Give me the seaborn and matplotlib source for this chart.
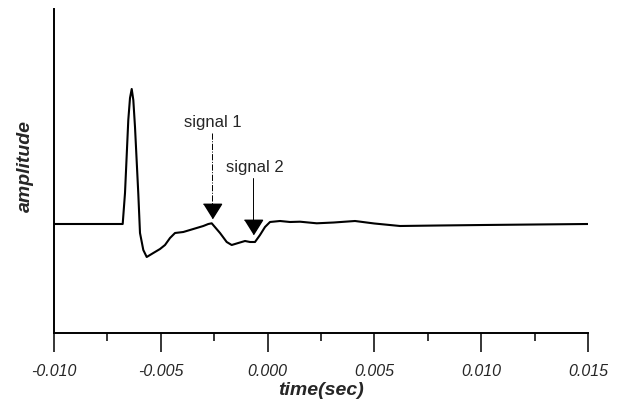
import matplotlib
matplotlib.use("Agg")
import matplotlib.pyplot as plt
from matplotlib.ticker import MultipleLocator, FormatStrFormatter
import numpy as np
import pandas as pd
import seaborn as sns

### data (time in s, amplitude in arbitrary units)
time_s = [-0.0100, -0.0080, -0.0069, -0.006784, -0.006676, -0.006522, -0.006442,
          -0.006362, -0.006287, -0.006208, -0.006053, -0.005974, -0.005819,
          -0.005660, -0.005351, -0.005037, -0.004803, -0.004569, -0.004335,
          -0.003947, -0.003478, -0.003010, -0.002776, -0.002617, -0.002228,
          -0.001915, -0.001681, -0.001372, -0.001058, -0.000824, -0.000590,
          -0.000356, -0.000122, 0.000112, 0.000581, 0.001049, 0.001520,
          0.002300, 0.003100, 0.004090, 0.005000, 0.006200, 0.008000,
          0.010100, 0.012500, 0.015000]
amplitude = [0, 0, 0, 0, 31, 104, 126,
             135, 124, 97, 30, -9, -26,
             -33, -29, -25, -21, -14, -9,
             -8, -5, -2, 0, 0.7, -9,
             -18, -21, -19, -17, -18, -18,
             -11, -3, 2, 3, 2, 2.3,
             0.7, 1.5, 3, 0.5, -2, -1.5,
             -1, -0.5, 0]

signal_labels = ["signal 1", "signal 2"]
signal_times = [-0.00261, -0.00070]
signal_tips = [5, -11]
signal_line_tops = [91, 46]
signal_text_y = [102, 57]
signal_text_x = [-0.00257, -0.00059]
signal_line_styles = ["-.", "-"]

df = pd.DataFrame({"time": time_s, "amplitude": amplitude})

sns.set_style("ticks")
plt.rcParams["font.family"] = ["Liberation Sans", "DejaVu Sans"]

fig = plt.figure(figsize=(6.2, 4.04), dpi=100)
ax = fig.add_axes([0.0871, 0.1765, 0.8613, 0.8012])

sns.lineplot(data=df, x="time", y="amplitude", ax=ax, color="black",
             linewidth=1.5, sort=False)

# arrows pointing at the two signals
head = [(-1, 0.8), (1, 0.8), (0, -0.8)]
for lab, t, tip, top, ty, tx, ls in zip(signal_labels, signal_times, signal_tips,
                                        signal_line_tops, signal_text_y,
                                        signal_text_x, signal_line_styles):
    ax.plot([t, t], [top, tip + 12], color="black", linewidth=0.7, linestyle=ls)
    ax.plot([t], [tip + 7.5], marker=head, markersize=13, color="black",
            linestyle="none")
    ax.text(tx, ty, lab, ha="center", va="center", fontsize=12)

ax.set_xlim(-0.010, 0.015)
ax.set_ylim(-108.7, 215)
ax.xaxis.set_major_locator(MultipleLocator(0.005))
ax.xaxis.set_minor_locator(MultipleLocator(0.0025))
ax.xaxis.set_major_formatter(FormatStrFormatter("%.3f"))
ax.set_yticks([])
ax.tick_params(axis="x", which="major", length=13.7, width=1.1, pad=9,
               labelsize=11.5, direction="out", color="black")
ax.tick_params(axis="x", which="minor", length=6, width=1.1, direction="out",
               color="black")
for lbl in ax.get_xticklabels():
    lbl.set_fontstyle("italic")

sns.despine(ax=ax)
for s in ["left", "bottom"]:
    ax.spines[s].set_linewidth(1.4)
    ax.spines[s].set_color("black")

ax.set_xlabel("time(sec)", fontsize=14, fontweight="bold", fontstyle="italic",
              labelpad=2)
ax.set_ylabel("amplitude", fontsize=14, fontweight="bold", fontstyle="italic")
ax.yaxis.set_label_coords(-0.038, 0.515)

fig.savefig("out.png", dpi=100)
